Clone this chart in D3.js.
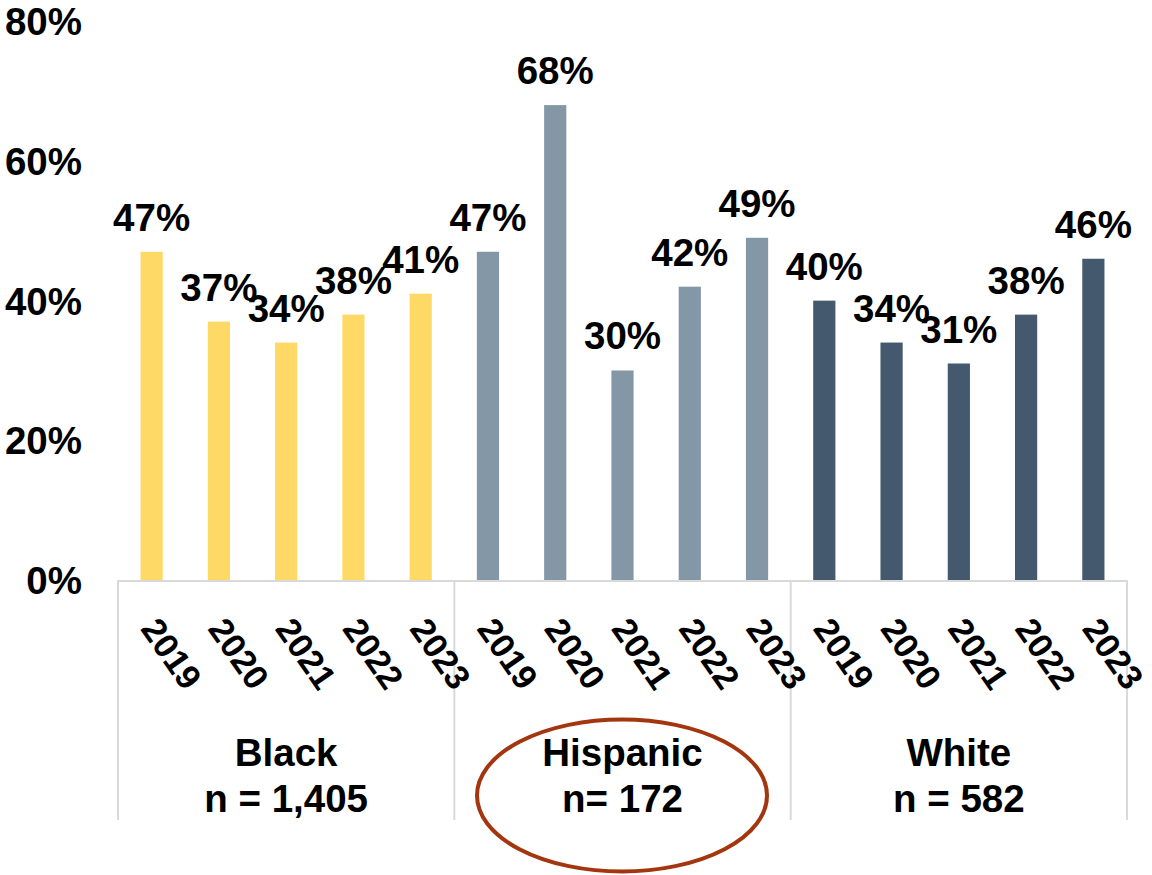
<!DOCTYPE html>
<html>
<head>
<meta charset="utf-8">
<script src="https://cdn.jsdelivr.net/npm/d3@7"></script>
<style>
  html, body { margin: 0; padding: 0; background: #fff; }
  svg { display: block; font-family: "Liberation Sans", Arial, sans-serif; font-weight: bold; }
</style>
</head>
<body>
<svg id="chart" width="1152" height="875"></svg>
<script>
// Share of respondents by group and year
const groups = ["Black", "Hispanic", "White"];
const groupSizes = ["n = 1,405", "n= 172", "n = 582"];
const years = ["2019", "2020", "2021", "2022", "2023"];
const blackValues = [47, 37, 34, 38, 41];
const hispanicValues = [47, 68, 30, 42, 49];
const whiteValues = [40, 34, 31, 38, 46];
const yTicks = [0, 20, 40, 60, 80];
const groupColors = ["#FFD966", "#8497A6", "#44596E"];
const highlightedGroup = "Hispanic";

const seriesByGroup = [blackValues, hispanicValues, whiteValues];
const rows = [];
groups.forEach((g, gi) => {
  years.forEach((y, yi) => {
    rows.push({ group: g, year: y, key: g + "-" + y, value: seriesByGroup[gi][yi], color: groupColors[gi] });
  });
});

const svg = d3.select("#chart");
const left = 118, right = 1127, baseY = 580, topY = 21.3;

const xGroup = d3.scaleBand().domain(groups).range([left, right]).padding(0);
const xYear = d3.scaleBand().domain(years).range([0, xGroup.bandwidth()]).paddingInner(0.67).paddingOuter(0.335);
const y = d3.scaleLinear().domain([0, 80]).range([baseY, topY]);

// y-axis tick labels only
const yAxis = d3.axisLeft(y).tickValues(yTicks).tickFormat(d => d + "%").tickSize(0).tickPadding(0);
const yg = svg.append("g").attr("transform", "translate(82,0)").call(yAxis);
yg.select(".domain").remove();
yg.selectAll("text")
  .attr("font-size", 38.5)
  .attr("font-family", "Liberation Sans, Arial, sans-serif")
  .attr("font-weight", "bold")
  .attr("fill", "#000")
  .attr("dy", "0.35em");

// bars
svg.append("g").selectAll("rect").data(rows).join("rect")
  .attr("x", d => xGroup(d.group) + xYear(d.year))
  .attr("width", xYear.bandwidth())
  .attr("y", d => y(d.value))
  .attr("height", d => y(0) - y(d.value))
  .attr("fill", d => d.color);

// value labels
svg.append("g").selectAll("text").data(rows).join("text")
  .attr("x", d => xGroup(d.group) + xYear(d.year) + xYear.bandwidth() / 2)
  .attr("y", d => y(d.value) - 21)
  .attr("text-anchor", "middle")
  .attr("font-size", 38.5)
  .attr("fill", "#000")
  .text(d => d.value + "%");

// category axis: baseline and group dividers
const axisG = svg.append("g");
axisG.append("line")
  .attr("x1", left).attr("x2", right).attr("y1", baseY + 1).attr("y2", baseY + 1)
  .attr("stroke", "#d9d9d9").attr("stroke-width", 2);
const dividers = groups.map(g => xGroup(g)).concat([right]);
axisG.selectAll("line.div").data(dividers).join("line")
  .attr("class", "div")
  .attr("x1", d => d).attr("x2", d => d)
  .attr("y1", baseY).attr("y2", 820)
  .attr("stroke", "#d9d9d9").attr("stroke-width", 2);

// rotated year labels
svg.append("g").selectAll("text").data(rows).join("text")
  .attr("transform", d => {
    const cx = xGroup(d.group) + xYear(d.year) + xYear.bandwidth() / 2;
    return `translate(${cx - 12},629) rotate(55)`;
  })
  .attr("font-size", 34.5)
  .attr("fill", "#000")
  .text(d => d.year);

// group names and sample sizes
const gl = svg.append("g").selectAll("g").data(groups).join("g")
  .attr("transform", g => `translate(${xGroup(g) + xGroup.bandwidth() / 2},0)`);
gl.append("text").attr("y", 766).attr("text-anchor", "middle").attr("font-size", 38.5).text(g => g);
gl.append("text").attr("y", 812).attr("text-anchor", "middle").attr("font-size", 38.5)
  .text((g, i) => groupSizes[i]);

// highlight ring around one group label
svg.append("ellipse")
  .attr("cx", xGroup(highlightedGroup) + xGroup.bandwidth() / 2 - 0.5)
  .attr("cy", 795.5)
  .attr("rx", 145)
  .attr("ry", 76)
  .attr("fill", "none")
  .attr("stroke", "#A3360E")
  .attr("stroke-width", 4);
</script>
</body>
</html>
